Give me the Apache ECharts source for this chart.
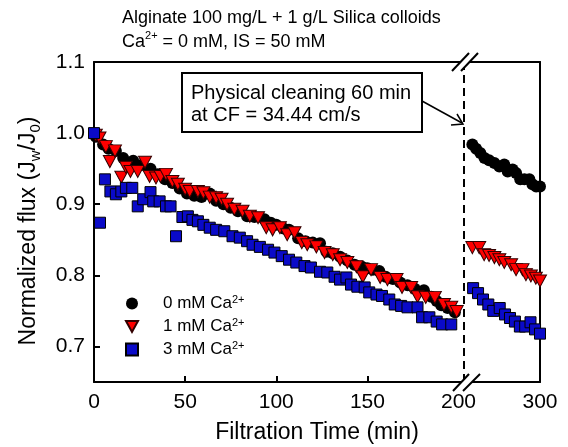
<!DOCTYPE html>
<html>
<head>
<meta charset="utf-8">
<script src="https://cdn.jsdelivr.net/npm/echarts@6/dist/echarts.min.js"></script>
<style>
  html, body { margin: 0; padding: 0; background: #fff; }
  #chart { width: 568px; height: 447px; }
</style>
</head>
<body>
<div id="chart"></div>
<script>
// ---- data: filtration time (min) and normalized flux Jw/J0 ----
// before physical cleaning (0 - 200 min)
var time0L = [1, 5, 8, 12, 16, 21.5, 26, 31, 35, 39, 43, 47, 51, 55, 59, 63.5, 67, 71, 75, 79, 84, 88, 93.5, 97, 100, 104, 107, 112, 116, 120, 124, 127.5, 131, 135, 139, 143, 147, 150, 153, 156.5, 160, 164, 168, 172, 176, 181, 185, 188, 190.5, 194, 198];
var flux0L = [0.995, 0.984, 0.978, 0.975, 0.965, 0.961, 0.955, 0.95, 0.942, 0.935, 0.93, 0.922, 0.915, 0.912, 0.91, 0.915, 0.905, 0.9, 0.895, 0.89, 0.883, 0.882, 0.879, 0.874, 0.871, 0.866, 0.864, 0.852, 0.848, 0.846, 0.845, 0.833, 0.831, 0.826, 0.821, 0.815, 0.812, 0.81, 0.808, 0.806, 0.798, 0.795, 0.79, 0.786, 0.781, 0.779, 0.77, 0.764, 0.758, 0.754, 0.748];

var time1L = [1, 3, 6.5, 8.7, 11.5, 15, 17.5, 20, 24, 28, 30.5, 34, 36.5, 39.5, 43, 46, 50, 52.5, 57, 60, 63.5, 67, 70, 73, 77, 81.5, 85.5, 90, 94.5, 98, 102, 106, 110, 114, 117, 122, 126.5, 131, 135, 139, 144, 147.5, 152, 157, 161, 166, 169, 174, 177.5, 182, 187, 192, 196, 199];
var flux1L = [0.997, 0.993, 0.981, 0.96, 0.975, 0.938, 0.952, 0.946, 0.946, 0.959, 0.939, 0.937, 0.939, 0.942, 0.932, 0.928, 0.921, 0.918, 0.918, 0.916, 0.91, 0.909, 0.907, 0.9, 0.893, 0.89, 0.883, 0.881, 0.867, 0.864, 0.867, 0.857, 0.86, 0.846, 0.843, 0.84, 0.832, 0.829, 0.822, 0.818, 0.812, 0.798, 0.808, 0.797, 0.794, 0.794, 0.783, 0.783, 0.77, 0.769, 0.769, 0.759, 0.755, 0.749];

var time3L = [0, 3.3, 6, 9, 12, 15, 17.5, 21, 24, 27, 31, 32.5, 36, 39.5, 42, 45, 48.5, 51.5, 54, 57, 60, 63.5, 67, 71.5, 76, 80, 84, 87, 91, 95.5, 99, 103, 107, 111, 115.5, 119, 124, 128, 132, 135, 138.5, 141, 144.5, 148.5, 151, 155, 158, 162, 165, 168.5, 172, 177.5, 180, 184, 188, 191, 196];
var flux3L = [1.0, 0.874, 0.935, 0.918, 0.914, 0.918, 0.923, 0.923, 0.897, 0.907, 0.917, 0.904, 0.904, 0.897, 0.897, 0.855, 0.882, 0.883, 0.878, 0.876, 0.871, 0.867, 0.864, 0.862, 0.855, 0.853, 0.848, 0.843, 0.84, 0.836, 0.832, 0.827, 0.822, 0.818, 0.813, 0.811, 0.805, 0.804, 0.798, 0.794, 0.797, 0.787, 0.784, 0.783, 0.776, 0.773, 0.771, 0.766, 0.759, 0.757, 0.755, 0.755, 0.741, 0.741, 0.735, 0.731, 0.731];

// after physical cleaning (200 - 300 min)
var time0R = [211, 216, 221.5, 227, 233, 240, 246.5, 253, 257.5, 264, 268.5, 274, 279.5, 286, 290, 295, 300];
var flux0R = [0.984, 0.978, 0.972, 0.965, 0.962, 0.958, 0.953, 0.956, 0.946, 0.949, 0.944, 0.935, 0.935, 0.935, 0.928, 0.925, 0.925];

var time1R = [211, 220, 226.5, 233, 240, 246.5, 253, 262, 268.5, 277, 281.5, 288, 294.5, 300];
var flux1R = [0.839, 0.839, 0.829, 0.828, 0.825, 0.822, 0.818, 0.815, 0.808, 0.808, 0.801, 0.799, 0.796, 0.792];

var time3R = [212, 218.5, 225, 232, 238.5, 247, 254, 260.5, 267, 273.5, 280.5, 287.5, 293.5, 300];
var flux3R = [0.782, 0.775, 0.766, 0.759, 0.75, 0.754, 0.745, 0.74, 0.735, 0.728, 0.728, 0.734, 0.724, 0.718];

var xTicksLeft = [0, 50, 100, 150, 200];
var xTicksRight = [300];
var yTicks = [0.7, 0.8, 0.9, 1.0, 1.1];

var FONT = 'Liberation Sans, Arial, sans-serif';
var TRI_DOWN = 'path://M0,0 L10,0 L5,9 Z';

function pairs(t, v) {
  return t.map(function (x, i) { return [x, v[i]]; });
}

function scatter(name, symbol, size, color, border, gridIdx, t, v) {
  return {
    name: name,
    type: 'scatter',
    xAxisIndex: gridIdx * 2,
    yAxisIndex: gridIdx,
    symbol: symbol,
    symbolSize: size,
    itemStyle: { color: color, borderColor: border, borderWidth: border ? 1 : 0, opacity: 1 },
    emphasis: { disabled: true },
    data: pairs(t, v)
  };
}

var chart = echarts.init(document.getElementById('chart'), null, { renderer: 'canvas' });

var frameLine = { show: true, onZero: false, lineStyle: { color: '#000', width: 2 } };

var series = [
  scatter('0 mM', 'circle', 12, '#000', null, 0, time0L, flux0L),
  scatter('1 mM', TRI_DOWN, [13, 12], '#ff0000', '#300', 0, time1L, flux1L),
  scatter('3 mM', 'rect', 11, '#0a0ac8', '#000', 0, time3L, flux3L),
  scatter('0 mM', 'circle', 12, '#000', null, 1, time0R, flux0R),
  scatter('1 mM', TRI_DOWN, [13, 12], '#ff0000', '#300', 1, time1R, flux1R),
  scatter('3 mM', 'rect', 11, '#0a0ac8', '#000', 1, time3R, flux3R)
];
// dashed line marking the cleaning step
series[3].markLine = {
  silent: true,
  symbol: 'none',
  label: { show: false },
  lineStyle: { color: '#000', width: 2, type: [8, 5] },
  data: [{ xAxis: 200 }]
};

var option = {
  animation: false,
  textStyle: { fontFamily: FONT },
  title: {
    left: 117,
    top: 1,
    text: '{a|Alginate 100 mg/L + 1 g/L Silica colloids}\n{a|Ca}{s|2+}{a| = 0 mM, IS = 50 mM}',
    textStyle: {
      rich: {
        a: { fontSize: 18, fontWeight: 'normal', color: '#000', lineHeight: 24, fontFamily: FONT },
        s: { fontSize: 11, fontWeight: 'normal', color: '#000', verticalAlign: 'top', lineHeight: 16, fontFamily: FONT }
      }
    }
  },
  legend: {
    orient: 'vertical',
    left: 120,
    top: 289,
    itemWidth: 12,
    itemHeight: 12,
    itemGap: 5,
    selectedMode: false,
    data: [
      { name: '0 mM', icon: 'circle' },
      { name: '1 mM', icon: TRI_DOWN },
      { name: '3 mM', icon: 'rect' }
    ],
    formatter: function (name) { return '{t|' + name + ' Ca}{s|2+}'; },
    textStyle: {
      padding: [0, 0, 0, 20],
      rich: {
        t: { fontSize: 17, color: '#000', lineHeight: 19, fontFamily: FONT },
        s: { fontSize: 11, color: '#000', verticalAlign: 'top', lineHeight: 14, fontFamily: FONT }
      }
    }
  },
  grid: [
    { left: 94, right: 104, top: 62, bottom: 65 },
    { left: 464, right: 28, top: 62, bottom: 65 }
  ],
  xAxis: [
    {
      gridIndex: 0, type: 'value', min: 0, max: 203, position: 'bottom',
      axisLine: frameLine,
      axisTick: { show: true, inside: true, length: 6, customValues: [50, 100, 150], lineStyle: { color: '#000', width: 2 } },
      axisLabel: { customValues: xTicksLeft, fontSize: 21, color: '#000', margin: 10, fontFamily: FONT },
      splitLine: { show: false }
    },
    {
      gridIndex: 0, type: 'value', min: 0, max: 203, position: 'top',
      axisLine: frameLine, axisTick: { show: false }, axisLabel: { show: false }, splitLine: { show: false }
    },
    {
      gridIndex: 1, type: 'value', min: 200, max: 300, position: 'bottom',
      axisLine: frameLine,
      axisTick: { show: false },
      axisLabel: { customValues: xTicksRight, fontSize: 21, color: '#000', margin: 10, fontFamily: FONT },
      splitLine: { show: false }
    },
    {
      gridIndex: 1, type: 'value', min: 200, max: 300, position: 'top',
      axisLine: frameLine, axisTick: { show: false }, axisLabel: { show: false }, splitLine: { show: false }
    }
  ],
  yAxis: [
    {
      gridIndex: 0, type: 'value', min: 0.65, max: 1.1, position: 'left',
      axisLine: frameLine,
      axisTick: { show: true, inside: true, length: 6, customValues: [0.7, 0.8, 0.9, 1.0], lineStyle: { color: '#000', width: 2 } },
      axisLabel: {
        customValues: yTicks, fontSize: 21, color: '#000', margin: 9, fontFamily: FONT,
        formatter: function (v) { return v.toFixed(1); }
      },
      splitLine: { show: false },
      name: '{n|Normalized flux (J}{b|w}{n|/J}{b|0}{n|)}',
      nameLocation: 'middle',
      nameRotate: 90,
      nameGap: 51,
      nameTextStyle: {
        padding: [0, 18, 0, 0],
        rich: {
          n: { fontSize: 23, color: '#000', lineHeight: 28, fontFamily: FONT },
          b: { fontSize: 15, color: '#000', verticalAlign: 'bottom', lineHeight: 22, fontFamily: FONT }
        }
      }
    },
    {
      gridIndex: 1, type: 'value', min: 0.65, max: 1.1, position: 'right',
      axisLine: frameLine, axisTick: { show: false }, axisLabel: { show: false }, splitLine: { show: false }
    }
  ],
  graphic: [
    {
      type: 'text', x: 317, y: 421, z: 10,
      style: { text: 'Filtration Time (min)', font: '23px ' + FONT, fill: '#000', textAlign: 'center' }
    },
    // callout box
    {
      type: 'rect', z: 10,
      shape: { x: 182, y: 73, width: 240, height: 59 },
      style: { fill: '#fff', stroke: '#000', lineWidth: 2 }
    },
    {
      type: 'text', x: 191, y: 82, z: 11,
      style: { text: 'Physical cleaning 60 min\nat CF = 34.44 cm/s', font: '20px ' + FONT, fill: '#000', lineHeight: 22 }
    },
    {
      type: 'line', z: 10,
      shape: { x1: 422, y1: 101, x2: 462, y2: 123 },
      style: { stroke: '#000', lineWidth: 1.5 }
    },
    {
      type: 'polyline', z: 10,
      shape: { points: [[451, 125], [463, 124], [457, 114]] },
      style: { stroke: '#000', lineWidth: 1.5, fill: null }
    },
    // axis break marks, top
    {
      type: 'polygon', z: 12,
      shape: { points: [[452, 71], [469, 53], [478, 53], [461, 71]] },
      style: { fill: '#fff' }
    },
    { type: 'line', z: 13, shape: { x1: 452, y1: 71, x2: 469, y2: 53 }, style: { stroke: '#000', lineWidth: 2 } },
    { type: 'line', z: 13, shape: { x1: 461, y1: 71, x2: 478, y2: 53 }, style: { stroke: '#000', lineWidth: 2 } },
    // axis break marks, bottom
    {
      type: 'polygon', z: 12,
      shape: { points: [[453, 391], [469, 374], [480, 374], [463, 391]] },
      style: { fill: '#fff' }
    },
    { type: 'line', z: 13, shape: { x1: 453, y1: 391, x2: 469, y2: 374 }, style: { stroke: '#000', lineWidth: 2 } },
    { type: 'line', z: 13, shape: { x1: 463, y1: 391, x2: 480, y2: 374 }, style: { stroke: '#000', lineWidth: 2 } }
  ],
  series: series
};

chart.setOption(option);
</script>
</body>
</html>
